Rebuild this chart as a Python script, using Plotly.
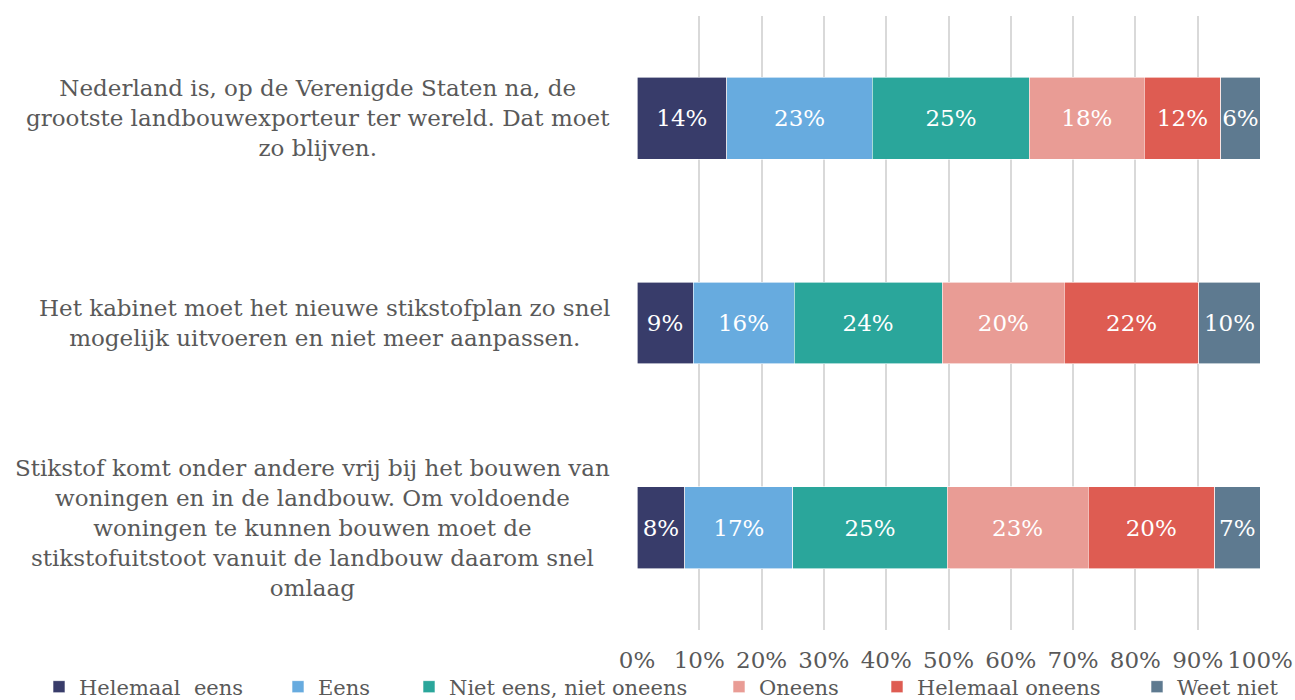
import plotly.graph_objects as go

categories = [
    "Nederland is, op de Verenigde Staten na, de<br>grootste landbouwexporteur ter wereld. Dat moet<br>zo blijven.",
    "Het kabinet moet het nieuwe stikstofplan zo snel<br>mogelijk uitvoeren en niet meer aanpassen.",
    "Stikstof komt onder andere vrij bij het bouwen van<br>woningen en in de landbouw. Om voldoende<br>woningen te kunnen bouwen moet de<br>stikstofuitstoot vanuit de landbouw daarom snel<br>omlaag",
]
series_names = ["Helemaal  eens", "Eens", "Niet eens, niet oneens", "Oneens", "Helemaal oneens", "Weet niet"]
helemaal_eens = [14.4, 9.0, 7.7]
eens = [23.4, 16.2, 17.3]
neutraal = [25.2, 23.8, 24.8]
oneens = [18.4, 19.6, 22.6]
helemaal_oneens = [12.3, 21.6, 20.3]
weet_niet = [6.3, 9.8, 7.3]
series_values = [helemaal_eens, eens, neutraal, oneens, helemaal_oneens, weet_niet]
colors = ["#383C6A", "#67ABDF", "#2AA69B", "#E99C95", "#DE5C52", "#5E7A90"]
tick_vals = [0, 10, 20, 30, 40, 50, 60, 70, 80, 90, 100]
tick_text = ["0%", "10%", "20%", "30%", "40%", "50%", "60%", "70%", "80%", "90%", "100%"]

FONT = "DejaVu Serif"
ypos = [2, 1, 0]

fig = go.Figure()
legend_square_x = [56, 295, 426, 736, 894, 1154]
for i, (name, vals, col) in enumerate(zip(series_names, series_values, colors)):
    lg = "legend" if i == 0 else f"legend{i+1}"
    fig.add_trace(go.Bar(
        y=ypos, x=vals, name=name, orientation="h",
        marker=dict(color=col, line=dict(width=0.6, color="#FFFFFF")),
        texttemplate="%{x:.0f}%", textposition="inside", insidetextanchor="middle",
        textangle=0,
        textfont=dict(family=FONT, size=23, color="#FFFFFF"),
        constraintext="none",
        legend=lg,
    ))

layout_legends = {}
for i, lx in enumerate(legend_square_x):
    key = "legend" if i == 0 else f"legend{i+1}"
    layout_legends[key] = dict(
        xref="container", yref="container", x=(lx - 17) / 1295, y=13 / 700,
        xanchor="left", yanchor="middle", orientation="h",
        font=dict(family=FONT, size=21, color="#595959"),
        bgcolor="rgba(0,0,0,0)", itemwidth=30, tracegroupgap=0,
    )

for c, y in zip(categories, ypos):
    fig.add_annotation(
        x=-0.04, xref="paper", y=y, yref="y", text=c, showarrow=False,
        xanchor="right", yanchor="middle", align="center",
        font=dict(family=FONT, size=23, color="#595959"),
    )

fig.update_layout(
    barmode="stack",
    bargap=0.6,
    width=1295, height=700,
    margin=dict(l=637, r=35, t=16, b=70, autoexpand=False),
    plot_bgcolor="#FFFFFF", paper_bgcolor="#FFFFFF",
    showlegend=True,
    **layout_legends,
)
fig.update_xaxes(
    range=[0, 100], tickvals=tick_vals, ticktext=tick_text,
    showgrid=True, gridcolor="#D9D9D9", gridwidth=1.5,
    zeroline=False, showline=False,
    tickfont=dict(family=FONT, size=23, color="#595959"),
    ticks="", ticklabelstandoff=14,
)
fig.update_yaxes(range=[-0.5, 2.5], showticklabels=False, showgrid=False, zeroline=False)

fig.write_html("out.html", config={"displayModeBar": False},
               post_script="document.body.style.margin='0px';document.body.style.overflow='hidden';")
